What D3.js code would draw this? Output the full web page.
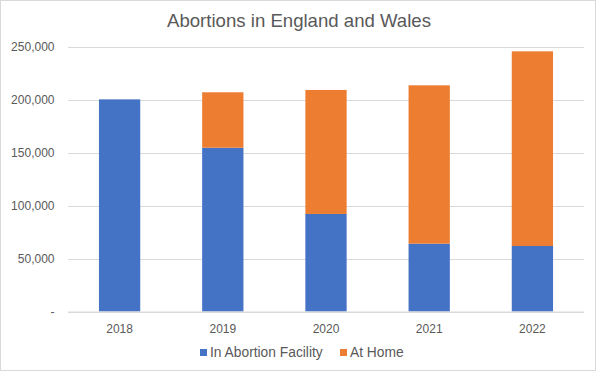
<!DOCTYPE html>
<html>
<head>
<meta charset="utf-8">
<script src="https://d3js.org/d3.v7.min.js"></script>
<style>
  html, body { margin: 0; padding: 0; background: #fff; }
  svg { display: block; font-family: "Liberation Sans", Arial, sans-serif; }
</style>
</head>
<body>
<script>
"use strict";
const years = ["2018", "2019", "2020", "2021", "2022"];
const facility = [200500, 154800, 92200, 64100, 61900];
const atHome = [0, 52400, 117200, 149700, 184000];
const seriesNames = ["In Abortion Facility", "At Home"];
const seriesColors = ["#4472C4", "#ED7D31"];
const yTicks = [0, 50000, 100000, 150000, 200000, 250000];

const W = 599, H = 372;

const svg = d3.select("body").append("svg").attr("width", W).attr("height", H);

svg.append("rect").attr("x", 0.5).attr("y", 0.5).attr("width", 595).attr("height", 370)
  .attr("fill", "#fff").attr("stroke", "#d9d9d9");

svg.append("text").attr("x", 299).attr("y", 27).attr("text-anchor", "middle")
  .attr("font-size", 18.6).attr("fill", "#595959").text("Abortions in England and Wales");

const x = d3.scaleBand().domain(years).range([68, 584]).paddingInner(0.6).paddingOuter(0.3);
const y = d3.scaleLinear().domain([0, 250000]).range([311.5, 47]);

const fmt = (v) => v === 0 ? "-" : d3.format(",")(v);

// gridlines
svg.append("g").selectAll("line").data(yTicks).join("line")
  .attr("x1", 68).attr("x2", 584)
  .attr("y1", (d) => Math.round(y(d)) + 0.5).attr("y2", (d) => Math.round(y(d)) + 0.5)
  .attr("stroke", "#d9d9d9").attr("stroke-width", 1);

// y axis labels
const yAxis = svg.append("g").attr("transform", "translate(54.5,0)")
  .call(d3.axisLeft(y).tickValues(yTicks).tickFormat(fmt).tickSize(0).tickPadding(0));
yAxis.select(".domain").remove();
yAxis.selectAll("text").attr("font-size", 12).attr("fill", "#595959")
  .attr("font-family", "Liberation Sans, Arial, sans-serif");

// stacked bars
const rows = years.map((yr, i) => ({ year: yr, facility: facility[i], home: atHome[i] }));
const stack = d3.stack().keys(["facility", "home"])(rows);

svg.append("g").selectAll("g").data(stack).join("g")
  .attr("fill", (d, i) => seriesColors[i])
  .selectAll("rect").data((d) => d).join("rect")
  .attr("x", (d) => x(d.data.year))
  .attr("width", x.bandwidth())
  .attr("y", (d) => y(d[1]))
  .attr("height", (d) => y(d[0]) - y(d[1]));

// x axis
const xAxis = svg.append("g").attr("transform", "translate(0,311.5)")
  .call(d3.axisBottom(x).tickSize(0).tickPadding(13));
xAxis.select(".domain").attr("stroke", "#d9d9d9").attr("d", "M68,0.5H584");
xAxis.selectAll("text").attr("font-size", 12).attr("fill", "#595959")
  .attr("font-family", "Liberation Sans, Arial, sans-serif");

// legend
const legendItems = [{ x: 200, name: seriesNames[0], color: seriesColors[0] },
                     { x: 340, name: seriesNames[1], color: seriesColors[1] }];
const lg = svg.append("g").selectAll("g").data(legendItems).join("g")
  .attr("transform", (d) => `translate(${d.x},0)`);
lg.append("rect").attr("x", 0).attr("y", 349).attr("width", 7).attr("height", 7)
  .attr("fill", (d) => d.color);
lg.append("text").attr("x", 10).attr("y", 357).attr("font-size", 13.8).attr("fill", "#595959")
  .text((d) => d.name);
</script>
</body>
</html>
